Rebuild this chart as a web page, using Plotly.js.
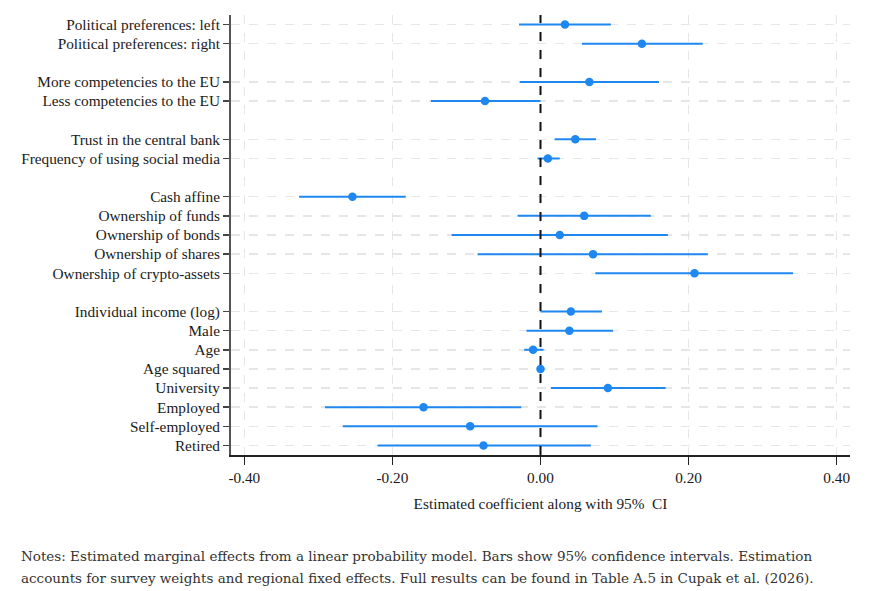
<!DOCTYPE html>
<html>
<head>
<meta charset="utf-8">
<script src="https://cdn.plot.ly/plotly-3.0.1.min.js"></script>
<style>
html,body{margin:0;padding:0;background:#fff;}
#chart{width:871px;height:591px;}
</style>
</head>
<body>
<div id="chart"></div>
<script>
// Variables in display order (top to bottom); group index marks blank gaps between groups
var categories = [
  "Political preferences: left",
  "Political preferences: right",
  "More competencies to the EU",
  "Less competencies to the EU",
  "Trust in the central bank",
  "Frequency of using social media",
  "Cash affine",
  "Ownership of funds",
  "Ownership of bonds",
  "Ownership of shares",
  "Ownership of crypto-assets",
  "Individual income (log)",
  "Male",
  "Age",
  "Age squared",
  "University",
  "Employed",
  "Self-employed",
  "Retired"
];
var groups = [0,0,1,1,2,2,3,3,3,3,3,4,4,4,4,4,4,4,4];
var estimate = [0.033, 0.137, 0.066, -0.075, 0.047, 0.010, -0.254, 0.059, 0.026, 0.071, 0.208,
                0.041, 0.039, -0.010, 0.000, 0.091, -0.158, -0.095, -0.077];
var ciLow    = [-0.029, 0.056, -0.028, -0.148, 0.019, -0.004, -0.326, -0.031, -0.120, -0.085, 0.074,
                0.000, -0.019, -0.022, -0.001, 0.014, -0.291, -0.267, -0.220];
var ciHigh   = [0.095, 0.219, 0.160, 0.000, 0.075, 0.026, -0.182, 0.149, 0.172, 0.226, 0.341,
                0.083, 0.098, 0.004, 0.001, 0.169, -0.026, 0.077, 0.068];
var xTickVals = [-0.4, -0.2, 0, 0.2, 0.4];
var xTickText = ["-0.40", "-0.20", "0.00", "0.20", "0.40"];
var xTitle = "Estimated coefficient along with 95%&nbsp; CI";
var notesLines = [
  "Notes: Estimated marginal effects from a linear probability model. Bars show 95% confidence intervals. Estimation",
  "accounts for survey weights and regional fixed effects. Full results can be found in Table A.5 in Cupak et al. (2026)."
];

// row slot = index + number of group gaps above it
var pos = categories.map(function(c, i){ return i + groups[i]; });
var errPlus = estimate.map(function(v, i){ return ciHigh[i] - v; });
var errMinus = estimate.map(function(v, i){ return v - ciLow[i]; });
var blue = "#1f87f0";

var trace = {
  type: "scatter",
  mode: "markers",
  x: estimate,
  y: pos,
  marker: {color: blue, size: 8.5},
  error_x: {type: "data", symmetric: false, array: errPlus, arrayminus: errMinus,
            color: blue, thickness: 2, width: 0},
  hoverinfo: "x+text",
  text: categories,
  showlegend: false
};

var serif = "'Liberation Serif', 'Times New Roman', serif";
var fs = 15.3;
var plotW = 871 - 231 - 21, plotH = 591 - 15 - 136;
var layout = {
  width: 871, height: 591,
  margin: {l: 231, r: 21, t: 15, b: 136},
  paper_bgcolor: "#ffffff",
  plot_bgcolor: "#ffffff",
  font: {family: serif, size: fs, color: "#1a1a1a"},
  xaxis: {
    range: [-0.418, 0.418],
    tickvals: xTickVals, ticktext: xTickText,
    ticks: "outside", ticklen: 8, tickwidth: 1.5, tickcolor: "#222",
    showline: true, linecolor: "#222", linewidth: 1.5,
    showgrid: true, gridcolor: "#e6e6e6", gridwidth: 1.5, griddash: "dash",
    zeroline: false,
    tickfont: {family: serif, size: fs, color: "#1a1a1a"},
    title: {text: xTitle, font: {family: serif, size: fs, color: "#1a1a1a"}, standoff: 13}
  },
  yaxis: {
    range: [22.5, -0.5],
    tickvals: pos, ticktext: categories,
    ticks: "outside", ticklen: 6, tickwidth: 1.5, tickcolor: "#444",
    showline: true, linecolor: "#555", linewidth: 2,
    showgrid: true, gridcolor: "#e6e6e6", gridwidth: 1.5, griddash: "dash",
    zeroline: false,
    tickfont: {family: serif, size: fs, color: "#1a1a1a"}
  },
  shapes: [{
    type: "line", xref: "x", yref: "paper", x0: 0, x1: 0, y0: 0, y1: 1,
    line: {color: "#111111", width: 2, dash: "dash"}, layer: "above"
  }],
  annotations: notesLines.map(function(t, i){
    // paper y=0 at plot bottom (pixel 455), y=1 at plot top (pixel 15)
    var py = 555.7 + 22 * i;
    return {
      xref: "paper", yref: "paper",
      x: (20 - 231) / plotW, y: (455 - py) / plotH,
      xanchor: "left", yanchor: "middle", align: "left", showarrow: false,
      borderpad: 0, text: t,
      font: {family: "'DejaVu Serif', serif", size: 13.5, color: "#333333"}
    };
  })
};

Plotly.newPlot("chart", [trace], layout, {displayModeBar: false, staticPlot: true});
</script>
</body>
</html>
